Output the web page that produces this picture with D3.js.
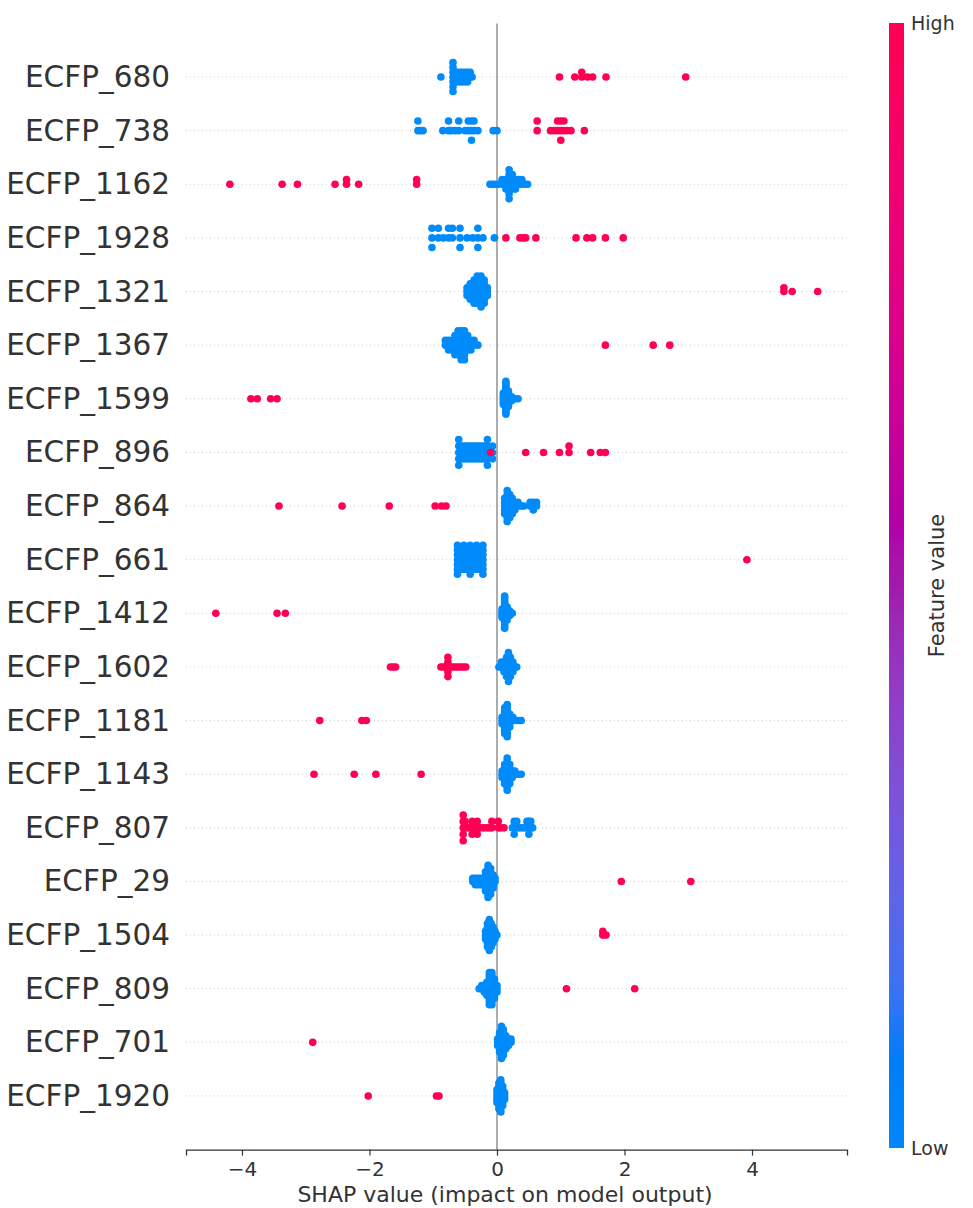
<!DOCTYPE html>
<html>
<head>
<meta charset="utf-8">
<script src="https://cdn.jsdelivr.net/npm/d3@7"></script>
<style>
  body { margin: 0; background: #fff; }
  text { font-family: "DejaVu Sans", sans-serif; fill: #333; }
</style>
</head>
<body>
<svg id="chart" width="973" height="1208"></svg>
<script>
// feature names, top to bottom
var features = ["ECFP_680", "ECFP_738", "ECFP_1162", "ECFP_1928", "ECFP_1321",
  "ECFP_1367", "ECFP_1599", "ECFP_896", "ECFP_864", "ECFP_661", "ECFP_1412",
  "ECFP_1602", "ECFP_1181", "ECFP_1143", "ECFP_807", "ECFP_29", "ECFP_1504",
  "ECFP_809", "ECFP_701", "ECFP_1920"]

// shap values of samples with low feature value, as [shap, how many]
var lowShap = [
  [[-0.88,1],[-0.69,7],[-0.66,3],[-0.62,3],[-0.58,3],[-0.54,3],[-0.5,3],[-0.46,3],[-0.42,2],[-0.39,1]],
  [[-1.24,2],[-1.2,1],[-1.16,1],[-0.85,1],[-0.76,2],[-0.72,1],[-0.66,1],[-0.6,2],[-0.5,1],[-0.45,2],[-0.4,3],[-0.36,2],[-0.3,1],[-0.06,1],[0.0,1]],
  [[-0.11,1],[-0.07,1],[-0.03,1],[0.02,1],[0.08,2],[0.14,3],[0.19,7],[0.24,4],[0.29,3],[0.34,2],[0.39,2],[0.44,1],[0.48,1]],
  [[-1.02,3],[-0.92,2],[-0.84,1],[-0.76,2],[-0.7,2],[-0.58,3],[-0.47,1],[-0.38,1],[-0.3,3],[-0.22,1],[-0.04,1]],
  [[-0.47,3],[-0.42,5],[-0.36,7],[-0.31,8],[-0.25,9],[-0.2,7],[-0.15,3]],
  [[-0.81,2],[-0.76,3],[-0.71,3],[-0.66,5],[-0.61,6],[-0.56,7],[-0.51,7],[-0.46,4],[-0.41,3],[-0.36,2],[-0.3,1]],
  [[0.1,7],[0.14,11],[0.18,9],[0.23,3],[0.28,1],[0.33,1]],
  [[-0.6,5],[-0.56,3],[-0.52,3],[-0.48,3],[-0.44,3],[-0.4,3],[-0.36,3],[-0.32,3],[-0.28,3],[-0.24,3],[-0.2,3],[-0.15,5],[-0.07,3]],
  [[0.12,5],[0.16,9],[0.2,7],[0.24,5],[0.28,3],[0.33,2],[0.38,1],[0.42,1],[0.52,2],[0.57,3],[0.62,2]],
  [[-0.62,7],[-0.57,5],[-0.52,6],[-0.47,5],[-0.42,7],[-0.37,5],[-0.32,6],[-0.27,5],[-0.22,7]],
  [[0.08,5],[0.12,11],[0.16,7],[0.2,3],[0.24,1]],
  [[0.03,1],[0.07,2],[0.11,3],[0.15,5],[0.18,7],[0.21,5],[0.25,3],[0.29,1],[0.31,1]],
  [[0.08,3],[0.12,9],[0.16,11],[0.2,5],[0.25,2],[0.3,1],[0.34,1],[0.38,1]],
  [[0.08,3],[0.12,7],[0.16,11],[0.2,7],[0.24,3],[0.28,2],[0.33,1],[0.38,1]],
  [[0.24,1],[0.27,3],[0.31,2],[0.35,1],[0.39,1],[0.43,1],[0.47,2],[0.5,3],[0.53,2],[0.56,1]],
  [[-0.38,2],[-0.34,3],[-0.3,3],[-0.26,3],[-0.22,3],[-0.18,7],[-0.14,11],[-0.1,9],[-0.06,5],[-0.03,2]],
  [[-0.18,3],[-0.15,7],[-0.12,9],[-0.09,7],[-0.06,5],[-0.03,3],[0.0,1]],
  [[-0.28,1],[-0.24,2],[-0.2,3],[-0.16,5],[-0.12,11],[-0.08,11],[-0.04,7],[0.0,3]],
  [[0.01,3],[0.04,7],[0.07,11],[0.1,9],[0.14,5],[0.18,3],[0.22,2]],
  [[0.0,5],[0.03,9],[0.06,11],[0.09,7],[0.12,3]]
]

// shap values of samples with high feature value
var highShap = [
  [[0.98,1],[1.22,1],[1.33,2],[1.42,1],[1.5,1],[1.71,1],[2.96,1]],
  [[0.63,2],[0.84,1],[0.9,1],[0.95,2],[1.0,3],[1.05,2],[1.1,1],[1.16,1],[1.37,1]],
  [[-4.19,1],[-3.37,1],[-3.13,1],[-2.54,1],[-2.36,2],[-2.17,1],[-1.26,2]],
  [[0.14,1],[0.36,1],[0.41,1],[0.45,1],[0.61,1],[1.24,1],[1.41,1],[1.5,1],[1.7,1],[1.98,1]],
  [[4.5,2],[4.63,1],[5.03,1]],
  [[1.7,1],[2.45,1],[2.71,1]],
  [[-3.86,1],[-3.76,1],[-3.55,1],[-3.45,1]],
  [[-0.1,1],[0.45,1],[0.73,1],[0.98,1],[1.13,2],[1.47,1],[1.62,1],[1.7,1]],
  [[-3.42,1],[-2.43,1],[-1.69,1],[-0.97,1],[-0.87,1],[-0.8,1]],
  [[3.92,1]],
  [[-4.41,1],[-3.45,1],[-3.32,1]],
  [[-1.67,1],[-1.63,1],[-1.59,1],[-0.88,1],[-0.84,1],[-0.81,1],[-0.77,5],[-0.73,1],[-0.69,1],[-0.65,1],[-0.61,1],[-0.57,1],[-0.53,1],[-0.49,1]],
  [[-2.78,1],[-2.12,1],[-2.05,1]],
  [[-2.87,1],[-2.24,1],[-1.9,1],[-1.19,1]],
  [[-0.53,5],[-0.5,2],[-0.46,1],[-0.42,1],[-0.39,3],[-0.35,1],[-0.31,3],[-0.26,1],[-0.21,1],[-0.16,1],[-0.12,1],[-0.08,2],[0.02,2],[0.06,1],[0.11,1]],
  [[1.95,1],[3.04,1]],
  [[1.66,2],[1.71,1]],
  [[1.09,1],[2.16,1]],
  [[-2.89,1]],
  [[-2.02,1],[-0.95,1],[-0.91,1]]
]

var xTicks = [-4, -2, 0, 2, 4]
var blue = "#008bfb"
var red = "#ff0052"

var svg = d3.select("#chart")

var margins = { left: 186, right: 126, top: 23.4, bottom: 58.4 }
var width = 973 - margins.left - margins.right
var nRows = features.length

var x = d3.scaleLinear()
  .domain([-4.878, 5.49])
  .range([margins.left, margins.left + width])

// shap style positions: row i sits at nRows-1-i, axis runs from -1 to nRows
var y = d3.scaleLinear()
  .domain([-1, nRows])
  .range([1149.6, margins.top])

// dotted row guides
svg.append("g")
  .selectAll("line")
  .data(features)
  .enter()
  .append("line")
  .attr("x1", x.range()[0])
  .attr("x2", x.range()[1])
  .attr("y1", function(d, i) { return y(nRows - 1 - i) })
  .attr("y2", function(d, i) { return y(nRows - 1 - i) })
  .attr("stroke", "#cfcfcf")
  .attr("stroke-width", 1)
  .attr("stroke-dasharray", "1,3")

// zero line
svg.append("line")
  .attr("x1", x(0)).attr("x2", x(0))
  .attr("y1", y(nRows)).attr("y2", y(-1))
  .attr("stroke", "#999999")
  .attr("stroke-width", 1.6)

// build a beeswarm row the way shap does it
var swarm = function(low, high) {
  var pts = []
  low.forEach(function(p) { for (var k = 0; k < p[1]; k++) pts.push({ v: p[0], hi: false }) })
  high.forEach(function(p) { for (var k = 0; k < p[1]; k++) pts.push({ v: p[0], hi: true }) })
  var mn = d3.min(pts, function(d) { return d.v })
  var mx = d3.max(pts, function(d) { return d.v })
  pts.forEach(function(p, i) {
    p.idx = i
    p.q = Math.round(100 * (p.v - mn) / (mx - mn + 1e-8))
  })
  var order = pts.slice().sort(function(a, b) { return a.q - b.q || a.idx - b.idx })
  var layer = 0, lastBin = -1
  order.forEach(function(p) {
    if (p.q != lastBin) layer = 0
    p.off = Math.ceil(layer / 2) * ((layer % 2) * 2 - 1)
    layer++
    lastBin = p.q
  })
  var top = d3.max(pts, function(d) { return d.off + 1 })
  pts.forEach(function(p) { p.off = p.off * 0.9 * (0.4 / top) })
  return pts
}

var dots = svg.append("g")
features.forEach(function(f, i) {
  var pos = nRows - 1 - i
  var pts = swarm(lowShap[i], highShap[i])
  pts.sort(function(a, b) { return a.hi - b.hi })
  dots.append("g")
    .selectAll("circle")
    .data(pts)
    .enter()
    .append("circle")
    .attr("cx", function(d) { return x(d.v) })
    .attr("cy", function(d) { return y(pos + d.off) })
    .attr("r", 3.8)
    .attr("fill", function(d) { return d.hi ? red : blue })
})

// feature labels
svg.append("g")
  .selectAll("text")
  .data(features)
  .enter()
  .append("text")
  .attr("x", 170)
  .attr("y", function(d, i) { return y(nRows - 1 - i) })
  .attr("text-anchor", "end")
  .attr("dominant-baseline", "central")
  .style("font-size", "29.5px")
  .text(function(d) { return d })

// x axis
var xAxis = d3.axisBottom(x)
  .tickValues(xTicks)
  .tickSize(6)
  .tickPadding(6)
  .tickFormat(d3.format("d"))

var axisG = svg.append("g")
  .attr("transform", "translate(0," + y(-1) + ")")
  .call(xAxis)
axisG.select(".domain").attr("stroke", "#333").attr("stroke-width", 1.3)
axisG.selectAll(".tick line").attr("stroke", "#333").attr("stroke-width", 1.2)
axisG.selectAll(".tick text")
  .style("font-size", "20px")
  .style("font-family", "DejaVu Sans")
  .attr("fill", "#333")

svg.append("text")
  .attr("x", 505)
  .attr("y", 1194)
  .attr("text-anchor", "middle")
  .attr("dominant-baseline", "central")
  .style("font-size", "22px")
  .text("SHAP value (impact on model output)")

// colour bar, shap red_blue map: lch blend with a darker middle
var cbTop = 23, cbBottom = 1148, cbX = 889, cbW = 15
var cmap = function(t) {
  var l = t < 0.5 ? 54 - 28 * t : 40 + 28 * (t - 0.5)
  var c = 70 + 20 * t
  var h = 266.93 + (380.32 - 266.93) * t
  return d3.lch(l, c, h % 360).formatHex()
}
var defs = svg.append("defs")
var grad = defs.append("linearGradient")
  .attr("id", "cbgrad")
  .attr("x1", 0).attr("y1", 1).attr("x2", 0).attr("y2", 0)
d3.range(0, 1.0001, 0.025).forEach(function(t) {
  grad.append("stop")
    .attr("offset", t)
    .attr("stop-color", cmap(t))
})
svg.append("rect")
  .attr("x", cbX).attr("y", cbTop)
  .attr("width", cbW).attr("height", cbBottom - cbTop)
  .attr("fill", "url(#cbgrad)")

svg.append("text")
  .attr("x", 911).attr("y", cbTop)
  .attr("dominant-baseline", "central")
  .style("font-size", "19px")
  .text("High")
svg.append("text")
  .attr("x", 911).attr("y", cbBottom)
  .attr("dominant-baseline", "central")
  .style("font-size", "19px")
  .text("Low")
svg.append("text")
  .attr("transform", "translate(937," + ((cbTop + cbBottom) / 2) + ") rotate(-90)")
  .attr("text-anchor", "middle")
  .attr("dominant-baseline", "central")
  .style("font-size", "21px")
  .text("Feature value")
</script>
</body>
</html>
